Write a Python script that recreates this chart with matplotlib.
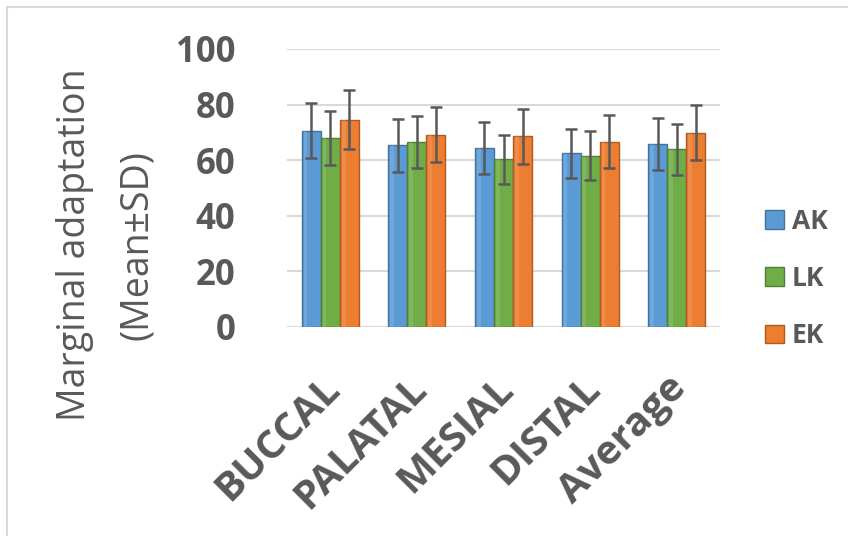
import numpy as np
import matplotlib
matplotlib.use("Agg")
import matplotlib.pyplot as plt
import matplotlib.transforms as mtransforms
from matplotlib.patches import Rectangle

plt.rcParams['font.family'] = ['Open Sans', 'DejaVu Sans']

categories = ["BUCCAL", "PALATAL", "MESIAL", "DISTAL", "Average"]
series = ["AK", "LK", "EK"]
ak_mean = [70.6, 65.3, 64.3, 62.5, 65.7]
ak_sd = [9.8, 9.4, 9.3, 8.9, 9.3]
lk_mean = [68.1, 66.5, 60.3, 61.6, 64.0]
lk_sd = [9.7, 9.4, 8.7, 8.8, 9.2]
ek_mean = [74.6, 69.2, 68.6, 66.7, 69.9]
ek_sd = [10.6, 9.9, 9.8, 9.5, 10.0]

colors = ["#5B9BD5", "#70AD47", "#ED7D31"]
edges = ["#41719C", "#507E32", "#AE5A21"]
grey = "#595959"

fig = plt.figure(figsize=(8.48, 5.36), dpi=100)
ax = fig.add_axes([287/848, 1 - 327/536, (720-287)/848, (327-49)/536])

# outer frame of the chart object
fig.patches.append(Rectangle((7/848, -0.05), 1.0, 1 - 7/536 + 0.05,
                             transform=fig.transFigure, fill=False,
                             edgecolor="#d9d9d9", lw=1.5))

x = np.arange(len(categories))
w = 0.22
means = [ak_mean, lk_mean, ek_mean]
sds = [ak_sd, lk_sd, ek_sd]
for i in range(3):
    pos = x + (i - 1) * w
    ax.bar(pos, means[i], w, color=colors[i], edgecolor=edges[i], lw=1,
           label=series[i], zorder=2)
    # light highlight strip to mimic the bevel
    ax.bar(pos - w * 0.3, means[i], w * 0.2, color="white", alpha=0.12,
           lw=0, zorder=3)
    ax.errorbar(pos, means[i], yerr=sds[i], fmt="none", ecolor=grey,
                elinewidth=1.8, capsize=4, capthick=1.8, zorder=4)

ax.set_ylim(0, 100)
ax.set_xlim(-0.5, 4.5)
ax.yaxis.grid(True, color="#d9d9d9", lw=1.5, zorder=0)
ax.set_axisbelow(True)
for s in ax.spines.values():
    s.set_visible(False)
ax.tick_params(axis="both", length=0)
ax.tick_params(axis="y", pad=37, labelcolor=grey)
ax.set_yticks(np.arange(0, 101, 20))
ax.set_yticklabels([str(v) for v in range(0, 101, 20)], fontsize=25,
                   fontweight="bold", color=grey)

ax.set_xticks(x)
ax.set_xticklabels(categories, rotation=45, ha="right", rotation_mode="anchor",
                   fontsize=29, fontweight="bold", color=grey)
ax.tick_params(axis="x", pad=30)
shift = mtransforms.ScaledTranslation(-0.1, 0, fig.dpi_scale_trans)
for t in ax.get_xticklabels():
    t.set_transform(t.get_transform() + shift)

fig.text(75/848, 1 - 245/536, "Marginal adaptation", rotation=90,
         ha="center", va="center", fontsize=27, color=grey)
fig.text(137/848, 1 - 245/536, "(Mean±SD)", rotation=90,
         ha="center", va="center", fontsize=27, color=grey)

leg = ax.legend(loc="center left", bbox_to_anchor=(1.05, 0.175), frameon=False,
                prop={"size": 19, "weight": "bold"}, handlelength=0.7,
                handleheight=0.7, labelspacing=1.15, handletextpad=0.3)
for t in leg.get_texts():
    t.set_color(grey)

fig.savefig("out.png", dpi=100)
